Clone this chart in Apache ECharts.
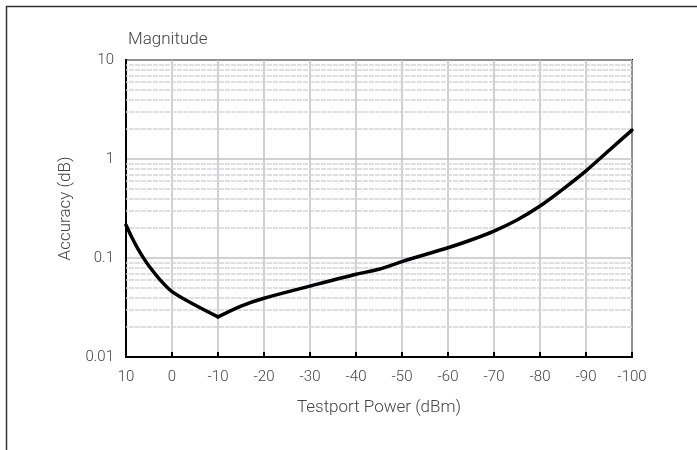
<!DOCTYPE html>
<html>
<head>
<meta charset="utf-8">
<script src="https://cdn.jsdelivr.net/npm/echarts@6/dist/echarts.min.js"></script>
<style>html,body{margin:0;padding:0;background:#fff}#c{width:697px;height:450px}</style>
</head>
<body>
<div id="c"></div>
<script>
const powerDbm = [10, 8.75, 7.5, 6.25, 5, 2.5, 0, -5, -10, -15, -20, -30, -40, -45, -50, -60, -65, -70, -75, -80, -85, -90, -95, -100];
const accuracyDb = [0.215, 0.162, 0.126, 0.101, 0.083, 0.0595, 0.0458, 0.0335, 0.0254, 0.0327, 0.0392, 0.052, 0.0685, 0.077, 0.092, 0.127, 0.152, 0.187, 0.242, 0.335, 0.497, 0.76, 1.22, 1.96];
const yMajorTicks = [0.01, 0.1, 1, 10];
const yMinorLines = [0.02,0.03,0.04,0.05,0.06,0.07,0.08,0.09,0.2,0.3,0.4,0.5,0.6,0.7,0.8,0.9,2,3,4,5,6,7,8,9];
const kinkIndex = powerDbm.indexOf(-10);

const points = powerDbm.map((x, i) => [x, accuracyDb[i]]);
const chart = echarts.init(document.getElementById('c'));
const txt = '#444';
const font = 'Roboto, "Liberation Sans", sans-serif';
const curveStyle = {color: '#000', width: 3.5, join: 'round', cap: 'round'};
chart.setOption({
  animation: false,
  backgroundColor: '#fff',
  title: {
    text: 'Magnitude', left: 123, top: 26,
    textStyle: {color: txt, fontSize: 17, fontWeight: 300, fontFamily: font}
  },
  graphic: [
    {type: 'line', shape: {x1: 6, y1: 6.5, x2: 697, y2: 6.5}, style: {stroke: '#333', lineWidth: 1.5}},
    {type: 'line', shape: {x1: 6.5, y1: 6, x2: 6.5, y2: 450}, style: {stroke: '#333', lineWidth: 1.5}}
  ],
  grid: {left: 126, top: 60, right: 65, bottom: 93, show: true, borderColor: '#000', borderWidth: 2, backgroundColor: 'transparent'},
  xAxis: {
    type: 'value', min: -100, max: 10, interval: 10, inverse: true,
    name: 'Testport Power (dBm)', nameLocation: 'middle', nameGap: 42,
    nameTextStyle: {color: txt, fontSize: 17, fontWeight: 300, fontFamily: font},
    axisLine: {show: true, onZero: false, lineStyle: {color: '#000', width: 2}},
    axisTick: {show: true, inside: true, length: 5, lineStyle: {color: '#000', width: 2}},
    axisLabel: {color: txt, fontSize: 15, fontWeight: 300, fontFamily: font, margin: 13},
    splitLine: {show: true, lineStyle: {color: '#c0c2c4', width: 1.5}}
  },
  yAxis: {
    type: 'log', logBase: 10, min: 0.01, max: 10,
    name: 'Accuracy (dB)', nameLocation: 'middle', nameGap: 47,
    nameTextStyle: {color: txt, fontSize: 17, fontWeight: 300, fontFamily: font},
    axisLine: {show: true, onZero: false, lineStyle: {color: '#000', width: 2}},
    axisTick: {show: false},
    axisLabel: {color: txt, fontSize: 15, fontWeight: 300, fontFamily: font, margin: 12,
      formatter: v => { const m = yMajorTicks.find(t => Math.abs(t - v) / t < 1e-6); return m !== undefined ? String(m) : ''; }},
    splitLine: {show: true, lineStyle: {color: '#c0c2c4', width: 1.5}}
  },
  series: [
    {
      type: 'line', data: [], silent: true, z: 1,
      markLine: {
        silent: true, symbol: 'none', label: {show: false}, animation: false, z: 1,
        lineStyle: {color: '#d4d5d7', width: 1.5, type: [5, 1]},
        data: yMinorLines.map(v => ({yAxis: v}))
      }
    },
    {
      type: 'line', data: points.slice(0, kinkIndex + 1), z: 10,
      showSymbol: false, smooth: 0.3, silent: true, lineStyle: curveStyle
    },
    {
      type: 'line', data: points.slice(kinkIndex), z: 10,
      showSymbol: false, smooth: 0.3, silent: true, lineStyle: curveStyle
    }
  ]
});
</script>
</body>
</html>
